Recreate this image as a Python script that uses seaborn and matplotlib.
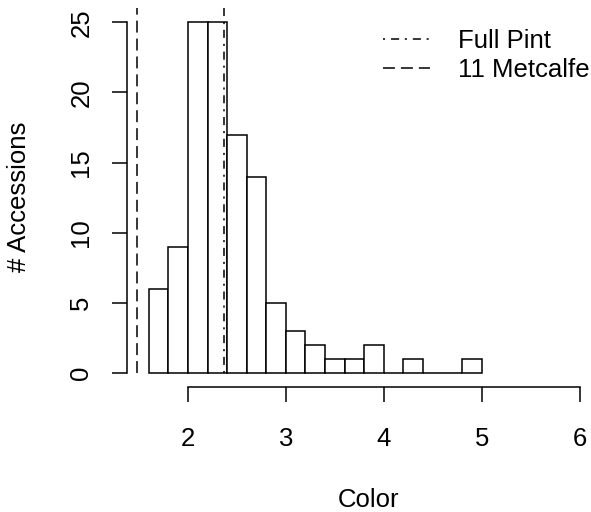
import matplotlib
matplotlib.use("Agg")
import matplotlib.pyplot as plt
from matplotlib.lines import Line2D
import numpy as np
import seaborn as sns

# Histogram of colour values (bins of 0.2 from 1.6 to 5.0)
bin_edges = [1.6, 1.8, 2.0, 2.2, 2.4, 2.6, 2.8, 3.0, 3.2, 3.4,
             3.6, 3.8, 4.0, 4.2, 4.4, 4.6, 4.8, 5.0]
counts = [6, 9, 25, 25, 17, 14, 5, 3, 2, 1, 1, 2, 0, 1, 0, 0, 1]
bin_mids = [(a + b) / 2 for a, b in zip(bin_edges[:-1], bin_edges[1:])]

# reference beers
ref_names = ["Full Pint", "11 Metcalfe"]
ref_colors = [2.365, 1.48]

x_ticks = [2, 3, 4, 5, 6]
y_ticks = [0, 5, 10, 15, 20, 25]

sns.set_style("white")
plt.rcParams['font.family'] = ['Liberation Sans', 'DejaVu Sans']
plt.rcParams['lines.scale_dashes'] = False
plt.rcParams['text.color'] = 'black'
plt.rcParams['axes.labelcolor'] = 'black'
plt.rcParams['xtick.color'] = 'black'
plt.rcParams['ytick.color'] = 'black'

FS = 18.5
dashed = (0, (8.6, 4.3))
dotdash = (0, (1.5, 4.3, 5.8, 4.1))
ref_styles = [dotdash, dashed]

fig = plt.figure(figsize=(5.91, 5.12), dpi=100)
ax = fig.add_axes([127 / 591, (512 - 387) / 512, (610 - 127) / 591, (387 - 8.3) / 512])

sns.histplot(x=bin_mids, weights=counts, bins=bin_edges, ax=ax,
             color="white", edgecolor="black", linewidth=1.1, alpha=1)

for val, ls in zip(ref_colors, ref_styles):
    ax.plot([val, val], [0, 26], color="black", linestyle=ls, linewidth=1.1)

ax.set_xlim(1.377, 6.31)
ax.set_ylim(-1, 26)

for s in ["top", "right"]:
    ax.spines[s].set_visible(False)
ax.spines["left"].set_bounds(0, 25)
ax.spines["bottom"].set_bounds(2, 6)
for s in ["left", "bottom"]:
    ax.spines[s].set_linewidth(1.1)
    ax.spines[s].set_color("black")

ax.set_xticks(x_ticks)
ax.set_yticks(y_ticks)
ax.set_xticklabels([str(t) for t in x_ticks], fontsize=FS)
ax.set_yticklabels([str(t) for t in y_ticks], fontsize=FS, rotation=90, va="center")
ax.tick_params(axis="both", length=10.8, width=1.1, color="black", direction="out",
               labelcolor="black")
ax.tick_params(axis="x", pad=18, bottom=True)
ax.tick_params(axis="y", pad=13.5, left=True)

ax.set_xlabel("Color", fontsize=FS, va="center")
ax.xaxis.set_label_coords(0.5, (387 - 500) / 378.7)
ax.set_ylabel("# Accessions", fontsize=FS, va="center")
ax.yaxis.set_label_coords((19 - 127) / 483, (387 - 196.5) / 378.7)

handles = [Line2D([0], [0], color="black", linestyle=ls, linewidth=1.1) for ls in ref_styles]
ax.legend(handles, ref_names, loc="upper left", bbox_to_anchor=(383 / 591, 1 - 29 / 512),
          bbox_transform=fig.transFigure, frameon=False, fontsize=FS, borderpad=0,
          handlelength=47 / (FS / 0.72), handletextpad=28 / (FS / 0.72),
          labelspacing=0.2, borderaxespad=0)

fig.savefig("out.png", dpi=100)
